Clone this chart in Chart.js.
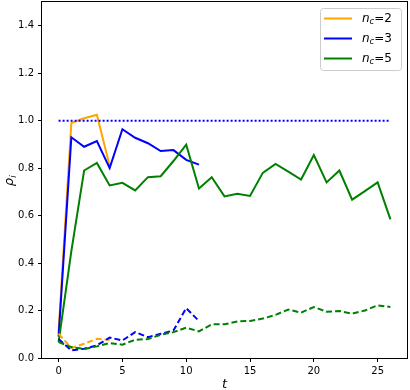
<!DOCTYPE html>
<html><head><meta charset="utf-8">
<script src="https://cdn.jsdelivr.net/npm/chart.js@4/dist/chart.umd.min.js"></script>
<style>html,body{margin:0;padding:0;background:#fff}#wrap{width:410px;height:390px}</style>
</head><body><div id="wrap"><canvas id="c" width="410" height="390"></canvas></div>
<script>
const t2 = [0,1,2,3,4];
const t3 = [0,1,2,3,4,5,6,7,8,9,10,11];
const t5 = [0,1,2,3,4,5,6,7,8,9,10,11,12,13,14,15,16,17,18,19,20,21,22,23,24,25,26];
const solid2 = [0.11,0.99,1.01,1.025,0.81];
const solid3 = [0.09,0.93,0.89,0.914,0.80,0.964,0.928,0.905,0.872,0.876,0.835,0.815];
const solid5 = [0.067,0.45,0.79,0.822,0.727,0.738,0.706,0.762,0.766,0.83,0.899,0.714,0.762,0.681,0.692,0.683,0.78,0.818,0.785,0.752,0.855,0.74,0.79,0.667,0.703,0.74,0.584];
const dash2 = [0.102,0.042,0.06,0.081,0.076];
const dash3 = [0.08,0.032,0.039,0.053,0.086,0.074,0.109,0.088,0.102,0.116,0.21,0.156];
const dash5 = [0.067,0.046,0.038,0.049,0.063,0.056,0.077,0.08,0.098,0.109,0.128,0.112,0.142,0.142,0.154,0.156,0.166,0.182,0.204,0.191,0.215,0.195,0.198,0.187,0.2,0.222,0.215];
const refT = [0,26];
const refY = [1.0,1.0];
const xTicks = [0,5,10,15,20,25];
const yTicks = [0,0.2,0.4,0.6,0.8,1.0,1.2,1.4];
const legendLabels = ['2','3','5'];

const ORANGE='#FFA500', BLUE='#0000FF', GREEN='#008000';
const pts=(xs,ys)=>xs.map((x,i)=>({x:x,y:ys[i]}));
function ds(xs,ys,color,dash){return {data:pts(xs,ys),borderColor:color,backgroundColor:color,borderWidth:2,borderDash:dash||[],borderCapStyle:'butt',pointRadius:0,tension:0,fill:false};}
const datasets=[
  ds(refT,refY,BLUE,[2,2]),
  ds(t5,dash5,GREEN,[6,3]),
  ds(t3,dash3,BLUE,[6,3]),
  ds(t2,dash2,ORANGE,[6,3]),
  ds(t5,solid5,GREEN),
  ds(t3,solid3,BLUE),
  ds(t2,solid2,ORANGE),
];
const FONT='"DejaVu Sans", sans-serif';
const deco={id:'deco',
  afterDraw(chart){
    const c=chart.ctx,a=chart.chartArea;
    c.save();
    c.strokeStyle='#000';c.lineWidth=1;
    c.strokeRect(Math.round(a.left)-0.5,Math.round(a.top)-0.5,Math.round(a.right-a.left)+1,Math.round(a.bottom-a.top)+1);
    // x title
    c.fillStyle='#000';c.font='italic 13px '+FONT;c.textAlign='center';c.textBaseline='alphabetic';
    c.fillText('t',(a.left+a.right)/2,388);
    // y title
    c.translate(13,(a.top+a.bottom)/2);c.rotate(-Math.PI/2);
    c.font='italic 13px '+FONT;c.textAlign='left';
    const w=c.measureText('ρ').width;
    c.fillText('ρ',-(w+4)/2,0);
    c.font='italic 9px '+FONT;c.fillText('i',-(w+4)/2+w,3);
    c.restore();
    // legend
    c.save();
    const lx=320.5,ly=8.5,lw=81,lh=62,r=3;
    c.fillStyle='rgba(255,255,255,0.8)';c.strokeStyle='#cccccc';c.lineWidth=1;
    c.beginPath();c.moveTo(lx+r,ly);c.lineTo(lx+lw-r,ly);c.quadraticCurveTo(lx+lw,ly,lx+lw,ly+r);
    c.lineTo(lx+lw,ly+lh-r);c.quadraticCurveTo(lx+lw,ly+lh,lx+lw-r,ly+lh);c.lineTo(lx+r,ly+lh);
    c.quadraticCurveTo(lx,ly+lh,lx,ly+lh-r);c.lineTo(lx,ly+r);c.quadraticCurveTo(lx,ly,lx+r,ly);c.closePath();c.fill();c.stroke();
    const cols=[ORANGE,BLUE,GREEN];
    legendLabels.forEach((lab,i)=>{
      const y=18.5+i*20;
      c.strokeStyle=cols[i];c.lineWidth=2;c.beginPath();c.moveTo(324,y);c.lineTo(352,y);c.stroke();
      c.fillStyle='#000';c.textBaseline='middle';c.textAlign='left';
      c.font='italic 12px '+FONT;c.fillText('n',362,y);
      const nw=c.measureText('n').width;
      c.font='italic 8.5px '+FONT;c.fillText('c',362+nw,y+3.5);
      const cw=c.measureText('c').width;
      c.font='12px '+FONT;c.fillText('='+lab,362+nw+cw,y);
    });
    c.restore();
  }};
new Chart(document.getElementById('c'),{
  type:'line',
  data:{datasets:datasets},
  plugins:[deco],
  options:{
    responsive:false,animation:false,devicePixelRatio:1,
    layout:{padding:{top:2,right:3,left:0,bottom:0}},
    plugins:{legend:{display:false},tooltip:{enabled:false}},
    scales:{
      x:{type:'linear',min:-1.3,max:27.3,
        afterBuildTicks(s){s.ticks=xTicks.map(v=>({value:v}));},
        afterFit(s){s.height=32;s.paddingLeft=0;s.paddingRight=0;},
        grid:{drawOnChartArea:false,tickLength:4,tickColor:'#000',drawTicks:true},
        border:{display:false},
        ticks:{color:'#000',font:{family:FONT,size:10},padding:3,maxRotation:0,callback:v=>String(v)}},
      y:{type:'linear',min:0,max:1.5,
        afterBuildTicks(s){s.ticks=yTicks.map(v=>({value:v}));},
        afterFit(s){s.width=42;s.paddingTop=0;s.paddingBottom=0;},
        grid:{drawOnChartArea:false,tickLength:4,tickColor:'#000',drawTicks:true},
        border:{display:false},
        ticks:{color:'#000',font:{family:FONT,size:10},padding:4,callback:v=>v.toFixed(1)}}
    }
  }
});
</script></body></html>
